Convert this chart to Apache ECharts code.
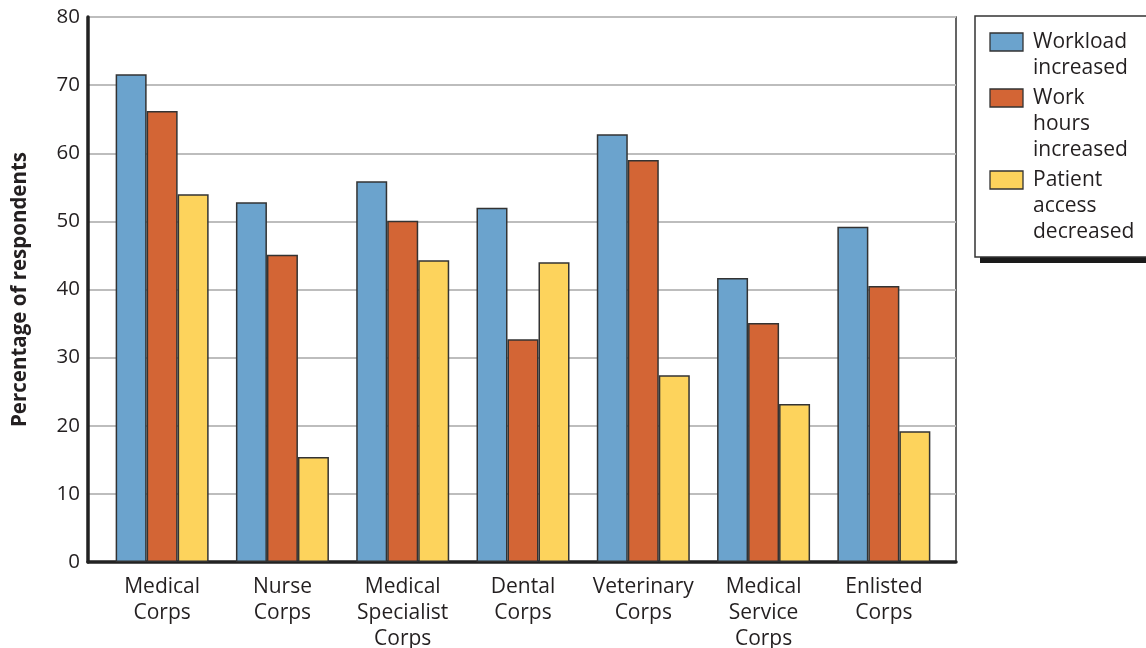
<!DOCTYPE html>
<html style="height: 100%">
<head>
    <meta charset="utf-8">
    <title>Percentage of respondents by corps</title>
    <script type="text/javascript" src="https://cdn.jsdelivr.net/npm/echarts@6/dist/echarts.min.js"></script>
</head>
<body style="height: 100%; margin: 0; background: #fff;">
<div id="container" style="width: 1146px; height: 648px;"></div>
<script type="text/javascript">
    // data
    var categories = ['Medical\nCorps', 'Nurse\nCorps', 'Medical\nSpecialist\nCorps', 'Dental\nCorps',
        'Veterinary\nCorps', 'Medical\nService\nCorps', 'Enlisted\nCorps'];
    var seriesNames = ['Workload\nincreased', 'Work\nhours\nincreased', 'Patient\naccess\ndecreased'];
    var workloadIncreased = [71.6, 52.8, 55.9, 52.0, 62.8, 41.7, 49.2];
    var workHoursIncreased = [66.2, 45.1, 50.1, 32.7, 59.0, 35.1, 40.5];
    var patientAccessDecreased = [54.0, 15.4, 44.3, 44.0, 27.4, 23.2, 19.2];
    var yTicks = [0, 10, 20, 30, 40, 50, 60, 70, 80];

    var seriesData = [workloadIncreased, workHoursIncreased, patientAccessDecreased];
    var colors = ['#6ba3cd', '#d36535', '#fdd35c'];
    var fontFamily = '"Open Sans", "Noto Sans", sans-serif';
    var textColor = '#231f20';

    var dom = document.getElementById('container');
    var myChart = echarts.init(dom);

    // legend drawn by hand so the swatch sits beside the first line
    var legendItems = [{
        type: 'rect',
        shape: {x: 980, y: 20, width: 180, height: 243},
        style: {fill: '#1a1a1a'},
        z: 9
    }, {
        type: 'rect',
        shape: {x: 975, y: 16, width: 180, height: 241},
        style: {fill: '#fff', stroke: '#333', lineWidth: 1.5},
        z: 10
    }];
    var ly = 29;
    for (var i = 0; i < seriesNames.length; i++) {
        var lines = seriesNames[i].split('\n').length;
        legendItems.push({
            type: 'rect',
            shape: {x: 990, y: ly + 4, width: 33, height: 18},
            style: {fill: colors[i], stroke: '#333', lineWidth: 1.3},
            z: 11
        });
        legendItems.push({
            type: 'text',
            x: 1033, y: ly,
            style: {text: seriesNames[i], font: '21px ' + fontFamily, fill: textColor,
                lineHeight: 26, verticalAlign: 'top'},
            z: 11
        });
        ly += lines * 26 + 4;
    }

    var series = [];
    for (var s = 0; s < seriesData.length; s++) {
        series.push({
            name: seriesNames[s],
            type: 'bar',
            xAxisIndex: 1,
            yAxisIndex: 1,
            data: seriesData[s],
            barWidth: 31,
            barGap: '0%',
            itemStyle: {color: colors[s], borderColor: '#333', borderWidth: 1.5},
            z: 5
        });
    }

    var option = {
        animation: false,
        textStyle: {fontFamily: fontFamily},
        grid: [
            // frame grid
            {left: 88, right: 190, top: 17, bottom: 86, show: true, outerBoundsMode: 'none',
                borderColor: '#333', borderWidth: 1.5, backgroundColor: 'transparent'},
            // bars grid
            {left: 102, right: 202, top: 17, bottom: 86, outerBoundsMode: 'none'}
        ],
        xAxis: [
            {gridIndex: 0, type: 'value', min: 0, max: 1, show: true,
                axisLine: {show: true, onZero: false, lineStyle: {color: '#222', width: 3.5}},
                axisTick: {show: false}, axisLabel: {show: false}, splitLine: {show: false}},
            {gridIndex: 1, type: 'category', data: categories,
                axisLine: {show: false}, axisTick: {show: false},
                axisLabel: {margin: 12, fontSize: 21, lineHeight: 26, color: textColor,
                    interval: 0, fontFamily: fontFamily}}
        ],
        yAxis: [
            {gridIndex: 0, type: 'value', min: yTicks[0], max: yTicks[yTicks.length - 1], interval: 10,
                name: 'Percentage of respondents', nameLocation: 'middle', nameGap: 57,
                nameTextStyle: {fontSize: 20.5, fontWeight: 'bold', color: textColor, fontFamily: fontFamily},
                axisLine: {show: true, lineStyle: {color: '#222', width: 3.5}},
                axisTick: {show: false},
                axisLabel: {margin: 8, fontSize: 20.5, color: textColor, fontFamily: fontFamily},
                splitLine: {show: true, lineStyle: {color: '#bdbdbd', width: 2}}},
            {gridIndex: 1, type: 'value', min: yTicks[0], max: yTicks[yTicks.length - 1], show: false,
                splitLine: {show: false}}
        ],
        graphic: legendItems,
        series: series
    };
    myChart.setOption(option, true);
</script>
</body>
</html>
